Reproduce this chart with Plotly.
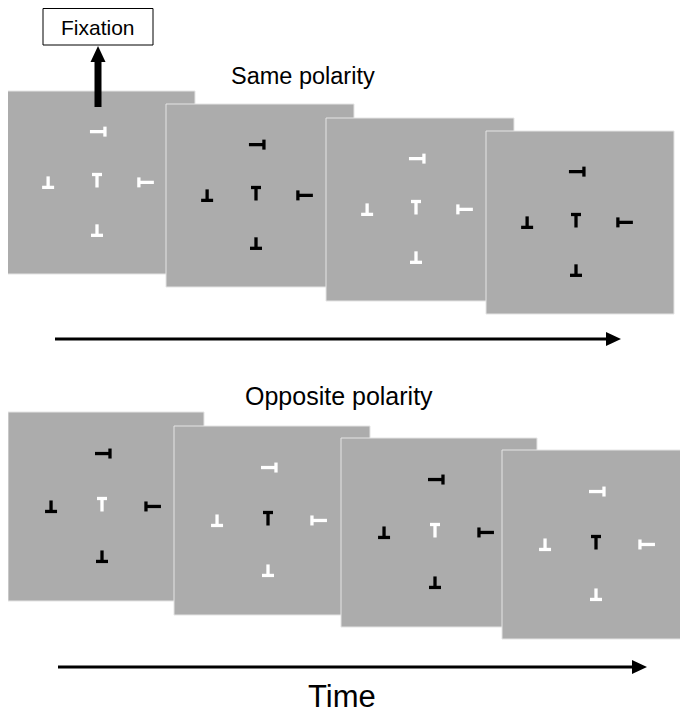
import plotly.graph_objects as go

W, H = 688, 715
OFF = 8  # the page body has an 8px margin; the figure is shifted to compensate

# ---- data ----
row_titles = ["Same polarity", "Opposite polarity"]
axis_label = "Time"
fix_label = "Fixation"

top_left = [7, 166, 326, 486]
top_top = [91, 104, 118, 131]
top_w, top_h = 188, 183
top_target = ["white", "black", "white", "black"]
top_distr = ["white", "black", "white", "black"]

bot_left = [8, 174, 341, 502]
bot_top = [412, 426, 438, 450]
bot_w, bot_h = 196, 189
bot_target = ["white", "black", "white", "black"]
bot_distr = ["black", "white", "black", "white"]

# distractor layout (kind, dx, dy) relative to the target, as a fraction of panel width
distractors = [("right", 0.005, -0.26), ("up", -0.26, 0.01), ("left", 0.26, 0.01), ("up", 0.0, 0.265)]

PANEL_FILL = "#acacac"
PANEL_EDGE = "#e4e4e4"


def glyph(kind, x, y):
    if kind == "T":
        return [x - 5, x + 5, None, x, x, None], [y - 6, y - 6, None, y - 6, y + 7, None]
    if kind == "up":       # ⊥
        return [x - 6, x + 6, None, x, x, None], [y + 5, y + 5, None, y - 6, y + 5, None]
    if kind == "right":    # ⊣
        return [x + 7, x + 7, None, x - 8, x + 7, None], [y - 5, y + 5, None, y, y, None]
    if kind == "left":     # ⊢
        return [x - 7, x - 7, None, x - 7, x + 8, None], [y - 5, y + 5, None, y, y, None]


fig = go.Figure()
shapes = []
annotations = []


def add_row(lefts, tops, w, h, tcols, dcols):
    for i in range(len(lefts)):
        x0, y0 = lefts[i], tops[i]
        shapes.append(dict(type="rect", x0=x0, x1=x0 + w, y0=y0, y1=y0 + h,
                           fillcolor=PANEL_FILL, line=dict(color=PANEL_EDGE, width=1),
                           layer="below", xref="x", yref="y"))
        cx = x0 + w / 2 - 4
        cy = y0 + h / 2 - 2
        xs, ys = glyph("T", cx, cy)
        fig.add_trace(go.Scatter(x=xs, y=ys, mode="lines", line=dict(color=tcols[i], width=3.3),
                                 hoverinfo="skip", showlegend=False))
        dx_all, dy_all = [], []
        for kind, fx, fy in distractors:
            gx, gy = glyph(kind, cx + fx * w, cy + fy * w)
            dx_all += gx
            dy_all += gy
        fig.add_trace(go.Scatter(x=dx_all, y=dy_all, mode="lines", line=dict(color=dcols[i], width=3.3),
                                 hoverinfo="skip", showlegend=False))


add_row(top_left, top_top, top_w, top_h, top_target, top_distr)
add_row(bot_left, bot_top, bot_w, bot_h, bot_target, bot_distr)


def h_arrow(x0, x1, y):
    shapes.append(dict(type="line", x0=x0, x1=x1 - 12, y0=y, y1=y,
                       line=dict(color="black", width=3), xref="x", yref="y"))
    shapes.append(dict(type="path", path=f"M {x1-15},{y-7} L {x1},{y} L {x1-15},{y+7} Z",
                       fillcolor="black", line=dict(color="black", width=0), xref="x", yref="y"))


h_arrow(55, 621, 339)
h_arrow(58, 647, 667)

# fixation arrow & box
shapes.append(dict(type="rect", x0=94.5, x1=101.5, y0=58, y1=107, fillcolor="black",
                   line=dict(width=0), xref="x", yref="y"))
shapes.append(dict(type="path", path="M 90.5,62 L 105.5,62 L 98,46 Z", fillcolor="black",
                   line=dict(width=0), xref="x", yref="y"))
shapes.append(dict(type="rect", x0=43, x1=153, y0=8.5, y1=45, fillcolor="white",
                   line=dict(color="black", width=1), xref="x", yref="y"))

font = "Liberation Sans, Arial, Helvetica, sans-serif"
annotations.append(dict(x=98, y=27, text=fix_label, showarrow=False, xref="x", yref="y",
                        font=dict(family=font, size=21, color="black")))
annotations.append(dict(x=303, y=76, text=row_titles[0], showarrow=False, xref="x", yref="y",
                        font=dict(family=font, size=23.5, color="black")))
annotations.append(dict(x=339, y=396, text=row_titles[1], showarrow=False, xref="x", yref="y",
                        font=dict(family=font, size=25, color="black")))
annotations.append(dict(x=342, y=696, text=axis_label, showarrow=False, xref="x", yref="y",
                        font=dict(family=font, size=31, color="black")))

fig.update_layout(
    width=W - OFF, height=H - OFF, margin=dict(l=0, r=0, t=0, b=0),
    paper_bgcolor="white", plot_bgcolor="white",
    xaxis=dict(range=[OFF, W], visible=False, fixedrange=True),
    yaxis=dict(range=[H, OFF], visible=False, fixedrange=True),
    shapes=shapes, annotations=annotations, showlegend=False,
)

fig.write_html("out.html")
